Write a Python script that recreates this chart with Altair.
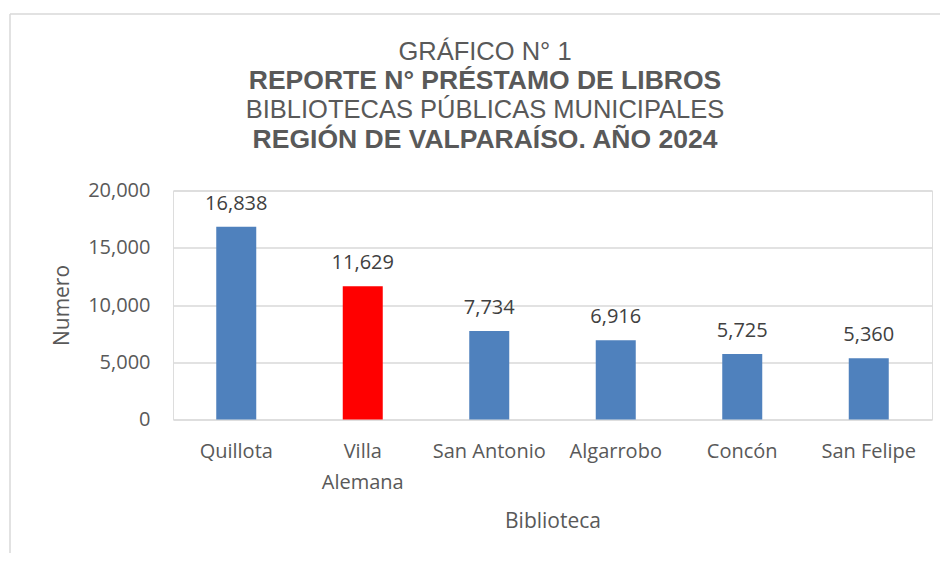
import altair as alt
import pandas as pd

categories = ["Quillota", "Villa Alemana", "San Antonio", "Algarrobo", "Concón", "San Felipe"]
values = [16838, 11629, 7734, 6916, 5725, 5360]
colors = ["#4F81BD", "#FF0000", "#4F81BD", "#4F81BD", "#4F81BD", "#4F81BD"]
title_lines = ["GRÁFICO N° 1", "REPORTE N° PRÉSTAMO DE LIBROS",
               "BIBLIOTECAS PÚBLICAS MUNICIPALES", "REGIÓN DE VALPARAÍSO. AÑO 2024"]
title_weights = ["normal", "bold", "normal", "bold"]
title_sizes = [25.5, 26.5, 25.5, 26.5]
title_y = [-130.5, -101.5, -73, -42.5]

df = pd.DataFrame({"Biblioteca": categories, "Numero": values, "color": colors})

W, H = 759, 229
TITLE_FONT = "Liberation Sans, Arial"
FONT = "Open Sans"

base = alt.Chart(df)

x_enc = alt.X("Biblioteca:N", sort=categories,
              scale=alt.Scale(paddingInner=0, paddingOuter=0),
              axis=alt.Axis(title="Biblioteca", labelAngle=0, labelFont=FONT, labelFontSize=20,
                            labelColor="#595959", titleFont=FONT, titleFontSize=21,
                            titleColor="#595959", titleFontWeight="normal", domain=False,
                            ticks=False, labelPadding=22, labelLineHeight=31, titlePadding=18,
                            labelExpr="datum.label == 'Villa Alemana' ? ['Villa', 'Alemana'] : datum.label"))

bars = base.mark_bar(size=40).encode(
    x=x_enc,
    y=alt.Y("Numero:Q", scale=alt.Scale(domain=[0, 20000]),
            axis=alt.Axis(title="Numero", values=[0, 5000, 10000, 15000, 20000], format=",d",
                          labelFont=FONT, labelFontSize=20, labelColor="#595959",
                          titleFont=FONT, titleFontSize=21, titleColor="#595959",
                          titleFontWeight="normal", domain=False, ticks=False,
                          labelPadding=23, titlePadding=15, gridColor="#d9d9d9", gridWidth=1.5)),
    color=alt.Color("color:N", scale=None),
)

labels = base.mark_text(font=FONT, fontSize=20, color="#404040", baseline="alphabetic", dy=-17).encode(
    x=alt.X("Biblioteca:N", sort=categories),
    y="Numero:Q",
    text=alt.Text("Numero:Q", format=","),
)

layers = [bars, labels]
for txt, w, s, yy in zip(title_lines, title_weights, title_sizes, title_y):
    layers.append(
        alt.Chart(pd.DataFrame({"t": [txt]})).mark_text(
            font=TITLE_FONT, fontSize=s, fontWeight=w, color="#595959",
            align="center", baseline="alphabetic"
        ).encode(x=alt.value(312), y=alt.value(yy), text="t:N")
    )

frame_df = pd.DataFrame({"k": [0]})
layers.append(alt.Chart(frame_df).mark_rule(color="#d9d9d9", strokeWidth=1.5).encode(
    x=alt.value(-163), y=alt.value(-176.5), y2=alt.value(380)))
layers.append(alt.Chart(frame_df).mark_rule(color="#d9d9d9", strokeWidth=1.5).encode(
    x=alt.value(-163), x2=alt.value(780), y=alt.value(-176.5)))

chart = alt.layer(*layers).properties(
    width=W, height=H,
    autosize=alt.AutoSizeParams(type="none"),
    padding={"left": 165, "top": 182.5, "right": 8, "bottom": 133},
).configure_view(stroke=None).configure(background="white")

chart.save("out.html", embed_options={"renderer": "svg", "actions": False})
